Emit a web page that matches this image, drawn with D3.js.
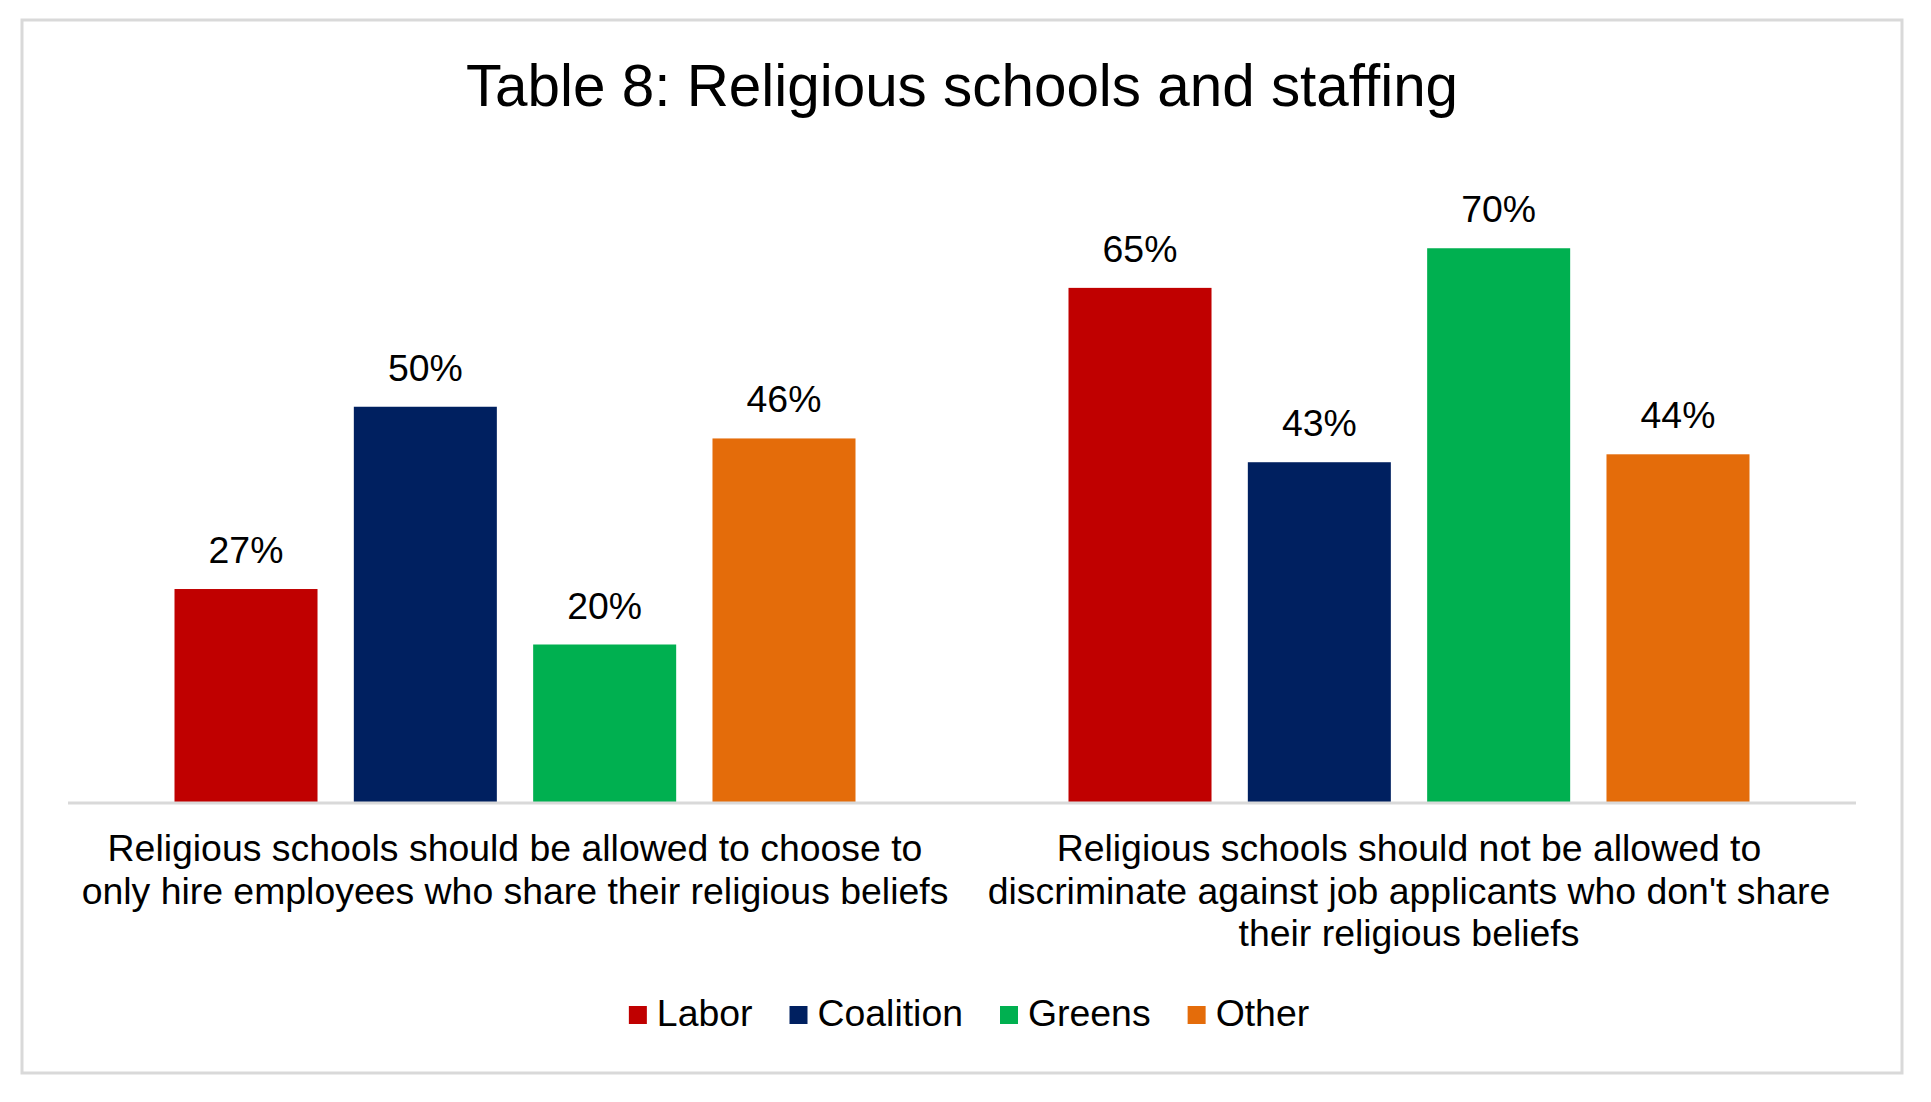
<!DOCTYPE html>
<html>
<head>
<meta charset="utf-8">
<script src="https://cdn.jsdelivr.net/npm/d3@7"></script>
<style>
  html, body { margin: 0; padding: 0; background: #fff; }
  svg text { font-family: "Liberation Sans", Arial, sans-serif; fill: #000; }
</style>
</head>
<body>
<div id="chart"></div>
<script>
var title = 'Table 8: Religious schools and staffing';
var categories = ['allowed', 'notAllowed'];
var categoryLines = [
  ['Religious schools should be allowed to choose to', 'only hire employees who share their religious beliefs'],
  ['Religious schools should not be allowed to', "discriminate against job applicants who don't share", 'their religious beliefs']
];
var series = ['Labor', 'Coalition', 'Greens', 'Other'];
var colors = ['#C00000', '#002060', '#00B050', '#E46C0A'];
var labor = [27, 65];
var coalition = [50, 43];
var greens = [20, 70];
var other = [46, 44];

var values = [labor, coalition, greens, other];

var dims = {
  width: 1931,
  height: 1102,
  plotLeft: 68,
  plotRight: 1856,
  plotTop: 169,
  baseline: 803,
  groupPad: 106.5,
  fontSize: 37.4
};

var svg = d3.select('#chart').append('svg')
  .attr('width', dims.width)
  .attr('height', dims.height);

// outer frame
svg.append('rect')
  .attr('x', 22)
  .attr('y', 20)
  .attr('width', 1880)
  .attr('height', 1053)
  .attr('fill', '#fff')
  .attr('stroke', '#d9d9d9')
  .attr('stroke-width', 3);

svg.append('text')
  .attr('x', 962)
  .attr('y', 106)
  .attr('text-anchor', 'middle')
  .attr('font-size', 58.4)
  .text(title);

var x0 = d3.scaleBand()
  .domain(categories)
  .range([dims.plotLeft, dims.plotRight]);

var x1 = d3.scaleBand()
  .domain(series)
  .range([dims.groupPad, x0.bandwidth() - dims.groupPad])
  .paddingInner(0.2025);

var y = d3.scaleLinear()
  .domain([0, 80])
  .range([dims.baseline, dims.plotTop]);

var rows = [];
series.forEach(function(s, si) {
  categories.forEach(function(c, ci) {
    rows.push({ series: s, category: c, value: values[si][ci], color: colors[si] });
  });
});

svg.selectAll('rect.bar')
  .data(rows)
  .enter().append('rect')
  .attr('class', 'bar')
  .attr('x', function(d) { return x0(d.category) + x1(d.series); })
  .attr('y', function(d) { return y(d.value); })
  .attr('width', x1.bandwidth())
  .attr('height', function(d) { return y(0) - y(d.value); })
  .attr('fill', function(d) { return d.color; });

svg.selectAll('text.val')
  .data(rows)
  .enter().append('text')
  .attr('class', 'val')
  .attr('x', function(d) { return x0(d.category) + x1(d.series) + x1.bandwidth() / 2; })
  .attr('y', function(d) { return y(d.value) - 26; })
  .attr('text-anchor', 'middle')
  .attr('font-size', dims.fontSize)
  .text(function(d) { return d.value + '%'; });

// category axis
var xAxis = svg.append('g')
  .attr('transform', 'translate(0,' + dims.baseline + ')')
  .call(d3.axisBottom(x0).tickSize(0).tickFormat(''));
xAxis.select('.domain')
  .attr('stroke', '#d9d9d9')
  .attr('stroke-width', 3)
  .attr('d', 'M' + dims.plotLeft + ',0H' + dims.plotRight);

categories.forEach(function(c, ci) {
  var t = svg.append('text')
    .attr('x', x0(c) + x0.bandwidth() / 2)
    .attr('y', 861)
    .attr('text-anchor', 'middle')
    .attr('font-size', dims.fontSize);
  categoryLines[ci].forEach(function(line, li) {
    t.append('tspan')
      .attr('x', x0(c) + x0.bandwidth() / 2)
      .attr('dy', li === 0 ? 0 : 42.5)
      .text(line);
  });
});

// legend
var legend = svg.append('g');
var lx = 0;
series.forEach(function(s, si) {
  var item = legend.append('g').attr('transform', 'translate(' + lx + ',0)');
  item.append('rect')
    .attr('x', 0)
    .attr('y', -20)
    .attr('width', 18)
    .attr('height', 18)
    .attr('fill', colors[si]);
  var t = item.append('text')
    .attr('x', 28)
    .attr('y', 0)
    .attr('font-size', dims.fontSize)
    .text(s);
  lx += 28 + t.node().getComputedTextLength() + 37;
});
var legendWidth = lx - 37;
legend.attr('transform', 'translate(' + (969 - legendWidth / 2) + ',1026)');
</script>
</body>
</html>
